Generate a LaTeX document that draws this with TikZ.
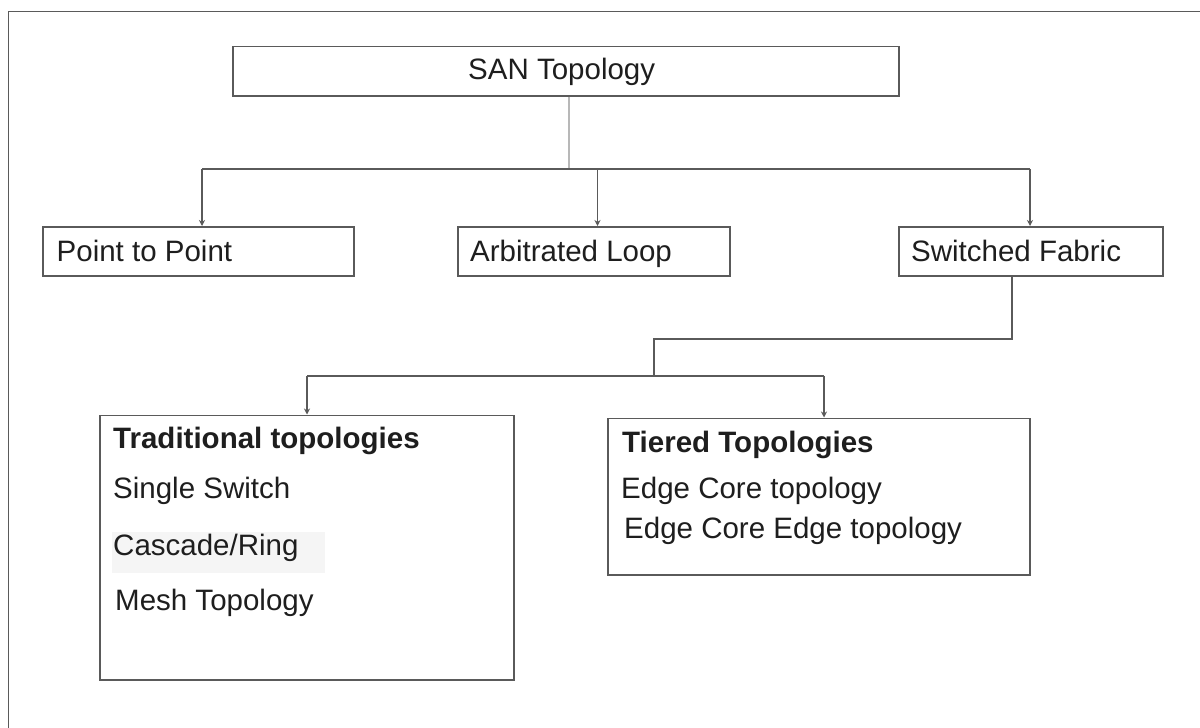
\documentclass[tikz,border=0pt]{standalone}
\usepackage{fontspec}
\setmainfont{Liberation Sans}
\usetikzlibrary{arrows.meta}
\definecolor{linegray}{HTML}{5A5A5A}
\definecolor{lightline}{HTML}{B8B8B8}
\definecolor{inkgray}{HTML}{1E1E1E}
\tikzset{
  box/.style={draw=linegray, line width=1.7pt, fill=white, inner sep=0pt, anchor=north west},
  label/.style={anchor=base west, inner sep=0pt, text=inkgray, font=\fontsize{29.5}{34}\selectfont},
  heading/.style={label, font=\fontsize{29.5}{34}\selectfont\bfseries},
  wire/.style={draw=linegray, line width=1.7pt},
  arrow/.style={wire, -{Stealth[length=6pt, width=6pt]}},
}
\begin{document}
\begin{tikzpicture}[x=1pt, y=-1pt]
\useasboundingbox (0,0) rectangle (1200,728);
% page frame (right and bottom edges fall outside the page)
\draw[draw=linegray, line width=1.7pt] (8.5,11.5) rectangle (1215,745);

% boxes
\node[box, minimum width=666, minimum height=49.5] (san) at (232,45.5) {};
\node[box, minimum width=311, minimum height=49] (ptp) at (42,226) {};
\node[box, minimum width=272, minimum height=49] (arb) at (457,226) {};
\node[box, minimum width=264, minimum height=49] (swf) at (898,226) {};
\node[box, minimum width=414, minimum height=264.5] (trad) at (99,414.5) {};
\node[box, minimum width=422, minimum height=156.5] (tier) at (607,417.5) {};

% labels
\node[label] (tsan) at (468,79) {SAN Topology};
\node[label] (tptp) at (56.5,261) {Point to Point};
\node[label] (tarb) at (470,261) {Arbitrated Loop};
\node[label] (tswf) at (911,261) {Switched Fabric};

\fill[black!4] (112,532) rectangle (325,573);
\node[heading] (ttrad) at (113,448) {Traditional topologies};
\node[label] (tsingle) at (113,498) {Single Switch};
\node[label] (tcasc) at (113,555) {Cascade/Ring};
\node[label] (tmesh) at (115,610) {Mesh Topology};

\node[heading] (ttier) at (622,452) {Tiered Topologies};
\node[label] (tec) at (621,498) {Edge Core topology};
\node[label] (tece) at (624,538) {Edge Core Edge topology};

% first level connectors
\coordinate (busA) at (569,169);
\coordinate (jp) at (202,169);
\coordinate (ja) at (597.5,169);
\coordinate (js) at (1030,169);
\draw[draw=lightline, line width=1.3pt] (san.south -| busA) -- (busA);
\draw[wire] (jp) -- (js);
\draw[arrow] (jp) -- (jp |- ptp.north);
\draw[arrow] (ja) -- (ja |- arb.north);
\draw[arrow] (js) -- (js |- swf.north);

% second level connectors
\coordinate (drop) at (1012,339);
\coordinate (busB) at (654,376);
\coordinate (jt) at (307,376);
\coordinate (jr) at (824,376);
\draw[wire] (swf.south -| drop) -- (drop) -- (busB |- drop) -- (busB);
\draw[wire] (jt) -- (jr);
\draw[arrow] (jt) -- (jt |- trad.north);
\draw[arrow] (jr) -- (jr |- tier.north);
\end{tikzpicture}
\end{document}
